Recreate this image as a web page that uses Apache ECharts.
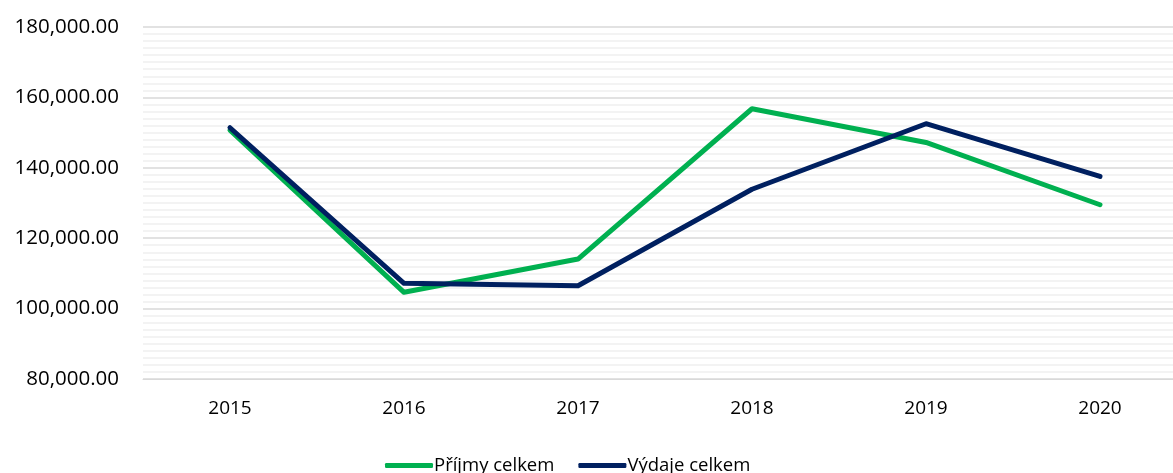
<!DOCTYPE html>
<html>
<head>
<meta charset="utf-8">
<script src="https://cdn.jsdelivr.net/npm/echarts@6/dist/echarts.min.js"></script>
<style>
html,body{margin:0;padding:0;background:#fff;overflow:hidden;}
#c{width:1190px;height:473px;}
</style>
</head>
<body>
<div id="c"></div>
<script>
const categories = ['2015', '2016', '2017', '2018', '2019', '2020'];
const prijmy = [150670, 104630, 114070, 156780, 147200, 129500];
const vydaje = [151380, 107190, 106480, 133900, 152520, 137540];
const seriesNames = ['Příjmy celkem', 'Výdaje celkem'];

function fmt(v) {
  const s = Math.round(v).toString().replace(/\B(?=(\d{3})+(?!\d))/g, ',');
  return s + '.00';
}

const chart = echarts.init(document.getElementById('c'));
const font = 'Open Sans';
chart.setOption({
  animation: false,
  backgroundColor: '#ffffff',
  grid: { left: 143, top: 27, width: 1044, height: 352 },
  legend: {
    left: 380, top: 451,
    itemWidth: 48, itemHeight: 5, itemGap: 24,
    icon: 'roundRect',
    textStyle: { fontFamily: font, fontSize: 18.5, color: '#000', padding: [0, 0, 0, -4] },
    data: seriesNames
  },
  xAxis: {
    type: 'category',
    data: categories,
    boundaryGap: true,
    axisLine: { lineStyle: { color: '#D9D9D9', width: 1 } },
    axisTick: { show: false },
    axisLabel: { fontFamily: font, fontSize: 19, color: '#000', margin: 20 }
  },
  yAxis: {
    type: 'value',
    min: 80000, max: 180000, interval: 20000,
    axisLine: { show: false },
    axisTick: { show: false },
    axisLabel: { fontFamily: font, fontSize: 20.5, color: '#000', margin: 24, formatter: fmt },
    splitLine: { lineStyle: { color: '#D9D9D9', width: 1.5 } },
    minorTick: { show: false, splitNumber: 10 },
    minorSplitLine: { show: true, lineStyle: { color: '#F0F0F0', width: 1.5 } }
  },
  series: [
    {
      name: seriesNames[0], type: 'line', data: prijmy,
      symbol: 'none', color: '#00B050',
      lineStyle: { width: 5, color: '#00B050', cap: 'round', join: 'round' }
    },
    {
      name: seriesNames[1], type: 'line', data: vydaje,
      symbol: 'none', color: '#002060',
      lineStyle: { width: 5, color: '#002060', cap: 'round', join: 'round' }
    }
  ]
});
</script>
</body>
</html>
